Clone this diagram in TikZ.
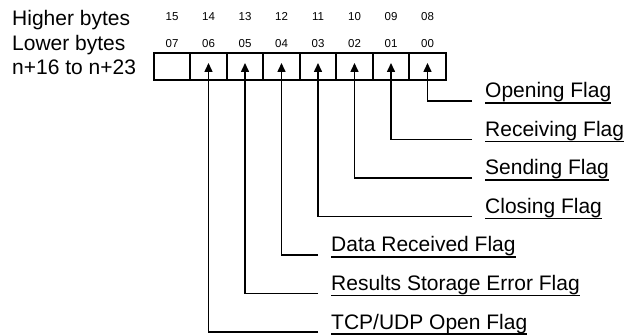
\documentclass[tikz,border=0pt]{standalone}
\usepackage{fontspec}
\setmainfont{Liberation Sans}
\usetikzlibrary{arrows.meta, positioning}

\begin{document}
\begin{tikzpicture}[x=1pt, y=-1pt,
  cell/.style={draw, line width=1.9pt, minimum width=36.5pt, minimum height=27pt, inner sep=0pt, outer sep=0pt},
  bitnum/.style={font=\fontsize{11.5}{13}\selectfont, inner sep=0pt},
  hdr/.style={font=\fontsize{21}{25}\selectfont, inner sep=0pt, anchor=base west},
  flag/.style={font=\fontsize{21}{25}\selectfont, inner sep=0pt, anchor=base west},
  uline/.style={line width=1.6pt},
  flagarrow/.style={line width=1.5pt, -{Triangle[length=9pt, width=8pt]}}]
  \useasboundingbox (0,0) rectangle (628,336);
  % Word labels on the left
  \node[hdr] (hdrHi) at (12,26) {Higher bytes};
  \node[hdr] (hdrLo) at (12,51) {Lower bytes};
  \node[hdr] (hdrAddr) at (12,75) {n+16 to n+23};
  % Bit cells and bit numbers
  \foreach \i in {0,...,7} {
    \pgfmathtruncatemacro{\hi}{8+\i}
    \node[cell] (c\i) at ({427.5-36.5*\i},66.5) {};
    \node[bitnum, above=5pt of c\i] (lo\i) {0\i};
    \node[bitnum, above=19pt of lo\i] (hi\i) {\ifnum\hi<10 0\fi\hi};
  }
  % Flag names
  \node[flag] (fOpen) at (485,98) {Opening Flag};
  \node[flag] (fRecv) at (485,136.5) {Receiving Flag};
  \node[flag] (fSend) at (485,175) {Sending Flag};
  \node[flag] (fClose) at (485,213.5) {Closing Flag};
  \node[flag] (fData) at (331,252) {Data Received Flag};
  \node[flag] (fErr) at (331,290.5) {Results Storage Error Flag};
  \node[flag] (fTcp) at (331,329) {TCP/UDP Open Flag};
  % Underlines and arrows up to the bits
  \foreach \f/\c in {fOpen/0, fRecv/1, fSend/2, fClose/3, fData/4, fErr/5, fTcp/6} {
    \draw[uline] ([yshift=-5pt]\f.base west) -- ([yshift=-5pt]\f.base east);
    \draw[flagarrow] ([shift={(-13pt,-3pt)}]\f.base west) -| ([yshift=-10pt]c\c.north);
  }
\end{tikzpicture}
\end{document}
